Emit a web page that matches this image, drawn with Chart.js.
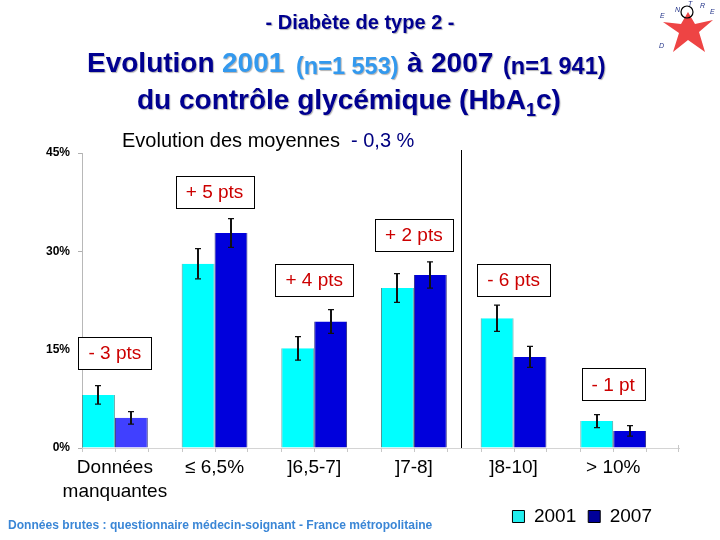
<!DOCTYPE html>
<html>
<head>
<meta charset="utf-8">
<script src="https://cdn.jsdelivr.net/npm/chart.js@4/dist/chart.umd.min.js"></script>
<style>
  html, body { margin: 0; padding: 0; background: #fff; }
  #wrap { position: relative; width: 720px; height: 540px; overflow: hidden; font-family: 'Liberation Sans', Arial, sans-serif; }
  #c { position: absolute; left: 0; top: 0; }
  .t { position: absolute; white-space: nowrap; line-height: 1; }
  .navy { color: #000090; }
  .lb { color: #3399ee; }
  .sh { text-shadow: 1px 1px 1px rgba(0,0,0,0.3); }
  .b28 { font-weight: bold; font-size: 28px; }
  .b22 { font-weight: bold; font-size: 23.5px; }
</style>
</head>
<body>
<div id="wrap">
  <canvas id="c" width="720" height="540"></canvas>
  <div class="t navy sh" style="left:0;width:720px;text-align:center;top:12px;font-weight:bold;font-size:20px;">- Diabète de type 2 -</div>
  <span class="t navy sh b28" style="left:87px;top:49px;">Evolution</span>
  <span class="t lb sh b28" style="left:222px;top:49px;">2001</span>
  <span class="t lb sh b22" style="left:296px;top:55px;">(n=1 553)</span>
  <span class="t navy sh b28" style="left:407px;top:49px;">à</span>
  <span class="t navy sh b28" style="left:431px;top:49px;">2007</span>
  <span class="t navy sh b22" style="left:503px;top:55px;">(n=1 941)</span>
  <div class="t navy sh" style="left:137px;top:86px;font-weight:bold;font-size:28px;">du contrôle glycémique (HbA<sub style="font-size:18px;line-height:0;">1</sub>c)</div>
  <div class="t" style="left:122px;top:130px;font-size:20px;color:#000;">Evolution des moyennes &nbsp;<span style="color:#000080">- 0,3 %</span></div>
  <div class="t" style="left:8px;top:518px;font-weight:bold;font-size:13px;color:#3a86d6;transform:scaleX(0.928);transform-origin:0 0;">Données brutes : questionnaire médecin-soignant - France métropolitaine</div>
  <svg style="position:absolute;left:655px;top:0px" width="65" height="62" viewBox="0 0 65 62">
    <polygon points="8,22 26,24 33,12 40,24 58,20 44,32 50,52 33,40 18,52 24,33" fill="#ee4444"/>
    <circle cx="32" cy="12" r="6" fill="none" stroke="#000" stroke-width="1.2"/>
    <text x="20" y="12" font-size="7" fill="#223388" font-style="italic">N</text>
    <text x="33" y="6" font-size="7" fill="#223388" font-style="italic">T</text>
    <text x="45" y="8" font-size="7" fill="#223388" font-style="italic">R</text>
    <text x="55" y="14" font-size="7" fill="#223388" font-style="italic">E</text>
    <text x="5" y="18" font-size="7" fill="#223388" font-style="italic">E</text>
    <text x="4" y="48" font-size="7" fill="#223388" font-style="italic">D</text>
  </svg>
</div>
<script>
// ---- data ----
const categories = [['Données', 'manquantes'], '≤ 6,5%', ']6,5-7]', ']7-8]', ']8-10]', '> 10%'];
const seriesNames = ['2001', '2007'];
const values2001 = [8.1, 28.1, 15.2, 24.4, 19.8, 4.1];
const values2007 = [4.6, 32.8, 19.3, 26.4, 13.9, 2.6];
const err2001 = [1.4, 2.3, 1.8, 2.2, 2.0, 1.0];
const err2007 = [0.95, 2.2, 1.8, 2.0, 1.6, 0.8];
const yTickValues = [0, 15, 30, 45];
const annotTexts = ['- 3 pts', '+ 5 pts', '+ 4 pts', '+ 2 pts', '- 6 pts', '- 1 pt'];
const annotValues = [14.5, 39.1, 25.7, 32.5, 25.7, 9.7];
const separatorBetween = 3.47;

// ---- styles ----
const colors2001 = values2001.map(() => '#00ffff');
const colors2007 = values2007.map((v, i) => i === 0 ? '#4040ff' : '#0000dc');
const legendColors = ['#22eeee', '#000099'];

const errorBarsPlugin = {
  id: 'errorBars',
  afterDatasetsDraw(chart) {
    const ctx = chart.ctx;
    const ys = chart.scales.y;
    const errs = [err2001, err2007];
    ctx.save();
    ctx.strokeStyle = '#111';
    chart.data.datasets.forEach((ds, di) => {
      const meta = chart.getDatasetMeta(di);
      meta.data.forEach((bar, j) => {
        const v = ds.data[j].y, e = errs[di][j];
        const x = Math.round(bar.x);
        const yt = ys.getPixelForValue(v + e), yb = ys.getPixelForValue(v - e);
        ctx.lineWidth = 2;
        ctx.beginPath();
        ctx.moveTo(x, yt); ctx.lineTo(x, yb);
        ctx.stroke();
        ctx.lineWidth = 1.2;
        ctx.beginPath();
        ctx.moveTo(x - 3, yt); ctx.lineTo(x + 3, yt);
        ctx.moveTo(x - 3, yb); ctx.lineTo(x + 3, yb);
        ctx.stroke();
      });
    });
    ctx.restore();
  }
};

const annotPlugin = {
  id: 'annots',
  afterLayout(chart) {
    chart.legend.top -= 4; chart.legend.bottom -= 4;
    chart.legend.left -= 15; chart.legend.right -= 15;
    chart.scales.x.bottom += 8;
  },
  afterDraw(chart) {
    const ctx = chart.ctx;
    const xs = chart.scales.x, ys = chart.scales.y;
    const area = chart.chartArea;
    ctx.save();
    ctx.strokeStyle = '#c8c8c8';
    ctx.lineWidth = 1;
    ctx.beginPath();
    chart.data.datasets.forEach((ds, di) => {
      chart.getDatasetMeta(di).data.forEach(bar => {
        [bar.x - bar.width / 2, bar.x + bar.width / 2].forEach(px => {
          const p = Math.round(px) + 0.5;
          ctx.moveTo(p, area.bottom); ctx.lineTo(p, area.bottom + 4);
        });
      });
    });
    ctx.moveTo(Math.round(area.right) - 0.5, area.bottom - 3);
    ctx.lineTo(Math.round(area.right) - 0.5, area.bottom + 4);
    ctx.stroke();
    const sx = Math.round(xs.getPixelForValue(separatorBetween)) + 0.5;
    ctx.strokeStyle = '#000';
    ctx.beginPath();
    ctx.moveTo(sx, area.top - 3);
    ctx.lineTo(sx, area.bottom);
    ctx.stroke();
    ctx.font = '19px "Liberation Sans", Arial, sans-serif';
    ctx.textAlign = 'center';
    ctx.textBaseline = 'middle';
    annotTexts.forEach((t, i) => {
      const cx = xs.getPixelForValue(i);
      const cy = ys.getPixelForValue(annotValues[i]);
      const w = ctx.measureText(t).width + 20;
      const h = 32;
      const x0 = Math.round(cx - w / 2) + 0.5, y0 = Math.round(cy - h / 2) + 0.5;
      ctx.fillStyle = '#fff';
      ctx.fillRect(x0, y0, Math.round(w), h);
      ctx.strokeStyle = '#000';
      ctx.strokeRect(x0, y0, Math.round(w), h);
      ctx.fillStyle = '#cc0000';
      ctx.fillText(t, cx, cy + 1);
    });
    ctx.restore();
  }
};

new Chart(document.getElementById('c'), {
  type: 'bar',
  data: {
    datasets: [
      { label: seriesNames[0], data: values2001.map((v, i) => ({ x: i, y: v })), backgroundColor: colors2001, borderColor: '#4f9a9a', borderWidth: { left: 1, right: 1, top: 0, bottom: 0 }, borderSkipped: false },
      { label: seriesNames[1], data: values2007.map((v, i) => ({ x: i, y: v })), backgroundColor: colors2007, borderColor: '#2a2a80', borderWidth: { left: 1, right: 1, top: 0, bottom: 0 }, borderSkipped: false }
    ]
  },
  options: {
    responsive: false,
    animation: false,
    events: [],
    layout: { padding: { top: 153, right: 41, bottom: 0, left: 0 } },
    datasets: { bar: { categoryPercentage: 0.66, barPercentage: 1.0, grouped: true } },
    plugins: {
      tooltip: { enabled: false },
      title: { display: false },
      legend: {
        display: true,
        position: 'bottom',
        align: 'end',
        labels: {
          color: '#000',
          font: { family: '"Liberation Sans", Arial, sans-serif', size: 19 },
          boxWidth: 12, boxHeight: 12, padding: 12,
          generateLabels(chart) {
            return chart.data.datasets.map((ds, i) => ({
              text: ds.label, fillStyle: legendColors[i], strokeStyle: '#000', lineWidth: 1, datasetIndex: i, hidden: false
            }));
          }
        }
      }
    },
    scales: {
      x: {
        type: 'linear',
        offset: false,
        min: -0.33,
        max: 5.66,
        afterBuildTicks(s) { s.ticks = categories.map((c, i) => ({ value: i })); },
        afterFit(s) { s.height = 540 - 448 - s.chart.legend.height; },
        grid: { display: false, drawTicks: false, tickLength: 0 },
        border: { display: true, color: '#d4d4d4', width: 1 },
        ticks: {
          color: '#000',
          padding: 8,
          maxRotation: 0,
          autoSkip: false,
          font: { family: '"Liberation Sans", Arial, sans-serif', size: 19, lineHeight: 1.26 },
          callback: (v) => categories[Math.round(v)]
        }
      },
      y: {
        min: 0,
        max: 45,
        afterBuildTicks(s) { s.ticks = yTickValues.map(v => ({ value: v })); },
        afterFit(s) { s.width = 82; },
        grid: { display: true, drawOnChartArea: false, drawTicks: true, tickLength: 4, color: '#b0b0b0' },
        border: { display: true, color: '#b8b8b8', width: 1 },
        ticks: {
          color: '#000',
          padding: 8,
          font: { family: '"Liberation Sans", Arial, sans-serif', size: 12, weight: 'bold' },
          callback: (v) => v + '%'
        }
      }
    }
  },
  plugins: [errorBarsPlugin, annotPlugin]
});
</script>
</body>
</html>
